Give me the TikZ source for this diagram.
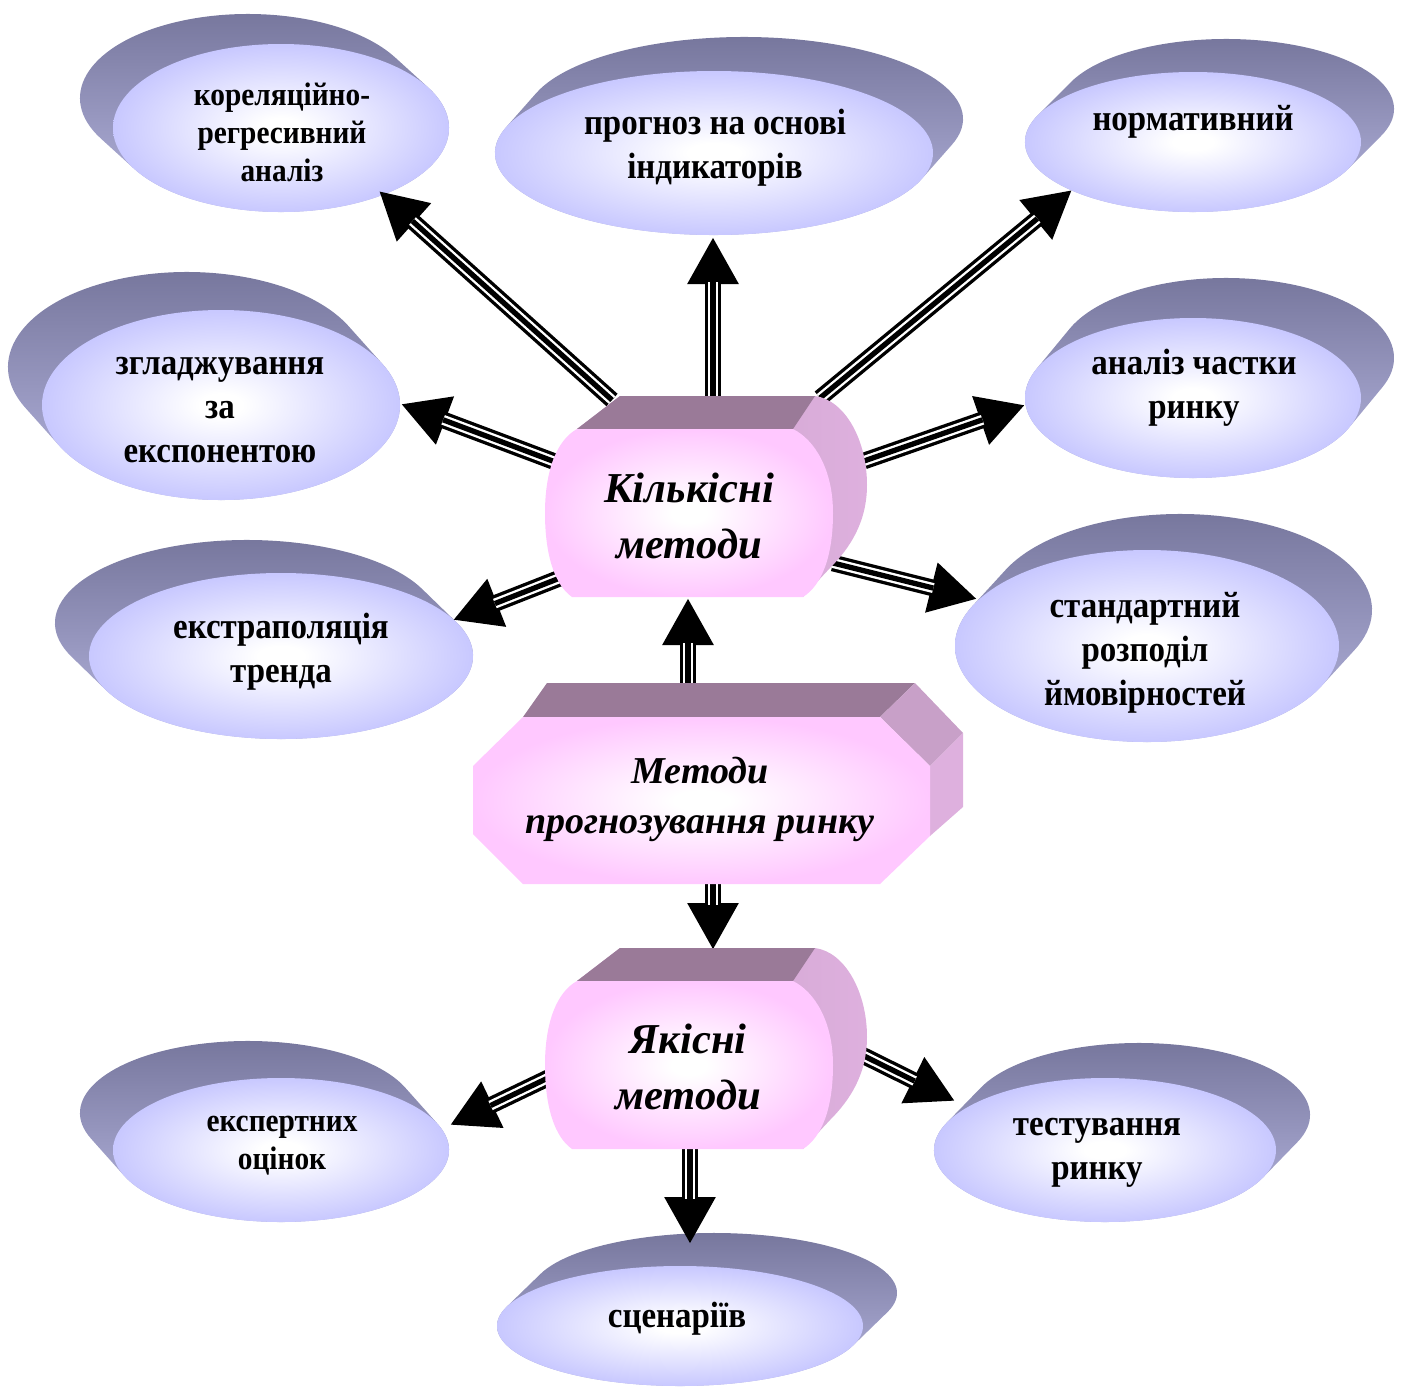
\documentclass[tikz,border=0pt]{standalone}
\usepackage{fontspec}
\setmainfont{Liberation Serif}
\newfontfamily\ovalfont[FakeStretch=0.9]{Liberation Serif}
\usetikzlibrary{arrows.meta}

\definecolor{ovalrim}{HTML}{C8C8FF}
\definecolor{pinkrim}{HTML}{FFC8FF}
\definecolor{extdark}{HTML}{74749A}
\definecolor{extlight}{HTML}{B8B8E2}
\definecolor{topface}{HTML}{9A7A98}
\definecolor{sideA}{HTML}{C8A0C8}
\definecolor{sideB}{HTML}{DEB0DE}

\pgfdeclareradialshading{ovalface}{\pgfpoint{0bp}{0bp}}{color(0bp)=(white); color(3bp)=(white); color(25bp)=(ovalrim); color(50bp)=(ovalrim)}
\pgfdeclareradialshading{pinkface}{\pgfpoint{0bp}{0bp}}{color(0bp)=(white); color(3bp)=(white); color(25bp)=(pinkrim); color(50bp)=(pinkrim)}

% extruded ellipse: cx, cy, rx, ry, extrusion dx, dy
\newcommand\ovalshape[6]{%
  \pgfmathsetmacro\ovT{atan2(-(#4)*(#5),(#3)*(#6))}%
  \pgfmathsetmacro\ovS{cos(\ovT+90)*(#5)/(#3)+sin(\ovT+90)*(#6)/(#4)}%
  \pgfmathsetmacro\ovT{\ovS<0 ? \ovT+180 : \ovT}%
  \pgfmathsetmacro\ovA{\ovT+180}%
  \pgfmathsetmacro\ovB{\ovT+360}%
  \pgfmathsetmacro\ovX{#1+(#3)*cos(\ovT)}%
  \pgfmathsetmacro\ovY{#2+(#4)*sin(\ovT)}%
  \shade[top color=extdark, bottom color=extlight]
    (\ovX,\ovY) -- ++(#5,#6)
    arc[start angle=\ovT, end angle=\ovA, x radius=#3, y radius=#4]
    -- ++({-(#5)},{-(#6)})
    arc[start angle=\ovA, end angle=\ovB, x radius=#3, y radius=#4] -- cycle;
  \shade[shading=ovalface] (#1,#2) ellipse[x radius=#3, y radius=#4];
}

% rounded pink block with its top and right faces
\newcommand\roundblock{%
  \shade[left color=sideA, right color=sideB]
    (577,429) -- (620,396) -- (815,396)
    .. controls (845,400) and (867,440) .. (867,485)
    .. controls (867,522) and (850,548) .. (830,568)
    -- (803,597) -- (793,429) -- cycle;
  \fill[topface] (577,429) -- (620,396) -- (815,396) -- (793,429) -- cycle;
  \shade[shading=pinkface]
    (577,429) -- (793,429)
    .. controls (815,440) and (833,470) .. (833,513)
    .. controls (833,556) and (822,585) .. (803,597)
    -- (572,597)
    .. controls (555,585) and (545,556) .. (545,513)
    .. controls (545,470) and (557,440) .. (577,429) -- cycle;
}

\tikzset{
  tri/.style={line width=8.35pt, -{Triangle[length=23.5pt, width=24pt]},
    postaction={draw=white, line width=5pt, -, shorten >=22.5pt},
    postaction={draw=black, line width=2.65pt, -, shorten >=22.5pt}},
  ovtext/.style={align=center, inner sep=0pt,
    font=\ovalfont\fontsize{18.3}{22}\selectfont\bfseries,
    execute at begin node=\strut, execute at end node=\strut},
  smalltext/.style={ovtext, font=\ovalfont\fontsize{16.3}{19}\selectfont\bfseries},
  blocktext/.style={align=center, inner sep=0pt,
    font=\fontsize{21.3}{28}\selectfont\bfseries\itshape,
    execute at begin node=\strut, execute at end node=\strut},
  midtext/.style={blocktext, font=\fontsize{19}{25}\selectfont\bfseries\itshape}
}

\begin{document}
\begin{tikzpicture}[x=0.5pt, y=-0.5pt]
\useasboundingbox (0,0) rectangle (1405,1387);

% outer ovals
\ovalshape{281}{128}{168}{84}{-33}{-30}
\ovalshape{714}{153}{219}{82}{30}{-34}
\ovalshape{1193}{142}{168}{70}{33}{-33}
\ovalshape{1193}{398}{168}{80}{33}{-40}
\ovalshape{221}{405}{179}{95}{-34}{-38}
\ovalshape{281}{656}{192}{83}{-34}{-33}
\ovalshape{1147}{646}{192}{96}{33}{-36}
\ovalshape{281}{1150}{168}{72}{-33}{-37}
\ovalshape{1105}{1150}{171}{72}{34}{-35}
\ovalshape{680}{1326}{183}{60}{34}{-33}

% arrow ends
\coordinate (k-a1) at (612,400);  \coordinate (a1-in) at (379,191);
\coordinate (k-a2) at (713,398);  \coordinate (a2-in) at (713,237);
\coordinate (k-a3) at (820,398);  \coordinate (a3-in) at (1072,190);
\coordinate (k-a5) at (558,463);  \coordinate (a5-in) at (401,404);
\coordinate (k-a4) at (864,461);  \coordinate (a4-in) at (1025,405);
\coordinate (k-a6) at (565,576);  \coordinate (a6-in) at (453,620);
\coordinate (k-a8) at (833,563);  \coordinate (a8-in) at (977,599);
\coordinate (m-k)  at (688,690);  \coordinate (k-in)  at (688,598);
\coordinate (m-y)  at (713,880);  \coordinate (y-in)  at (713,950);
\coordinate (y-a7) at (550,1077); \coordinate (a7-in) at (450,1125);
\coordinate (y-a9) at (856,1052); \coordinate (a9-in) at (955,1101);
\coordinate (y-a10) at (690,1148); \coordinate (a10-in) at (690,1244);

\draw[tri] (k-a1) -- (a1-in);
\draw[tri] (k-a2) -- (a2-in);
\draw[tri] (k-a3) -- (a3-in);
\draw[tri] (k-a5) -- (a5-in);
\draw[tri] (k-a4) -- (a4-in);
\draw[tri] (k-a6) -- (a6-in);
\draw[tri] (k-a8) -- (a8-in);
\draw[tri] (m-k) -- (k-in);
\draw[tri] (m-y) -- (y-in);
\draw[tri] (y-a7) -- (a7-in);
\draw[tri] (y-a9) -- (a9-in);
\draw[tri] (y-a10) -- (a10-in);

% central blocks
\roundblock
\begin{scope}[shift={(0,552)}]
  \roundblock
\end{scope}
\fill[topface] (523,717) -- (547,683) -- (915,683) -- (880,717) -- cycle;
\fill[sideA] (880,717) -- (915,683) -- (963,733) -- (930,766) -- cycle;
\fill[sideB] (930,766) -- (963,733) -- (963,807) -- (930,836) -- cycle;
\shade[shading=pinkface] (523,717) -- (880,717) -- (930,766) -- (930,836)
  -- (880,884) -- (523,884) -- (473,834) -- (473,766) -- cycle;

% labels
\node[smalltext] (a1) at (282,138) {кореляційно-\\регресивний\\аналіз};
\node[ovtext] (a2) at (715,150) {прогноз на основі\\індикаторів};
\node[ovtext] (a3) at (1193,122) {нормативний};
\node[ovtext] (a4) at (1194,390) {аналіз частки\\ринку};
\node[ovtext] (a5) at (220,416) {згладжування\\за\\експонентою};
\node[ovtext] (a6) at (281,654) {екстраполяція\\тренда};
\node[ovtext] (a8) at (1145,655) {стандартний\\розподіл\\ймовірностей};
\node[smalltext] (a7) at (282,1149) {експертних\\оцінок};
\node[ovtext] (a9) at (1097,1155) {тестування\\ринку};
\node[ovtext] (a10) at (677,1319) {сценаріїв};
\node[blocktext] (k) at (689,524) {Кількісні\\методи};
\node[midtext] (m) at (700,803) {Методи\\прогнозування ринку};
\node[blocktext] (y) at (688,1075) {Якісні\\методи};
\end{tikzpicture}
\end{document}
